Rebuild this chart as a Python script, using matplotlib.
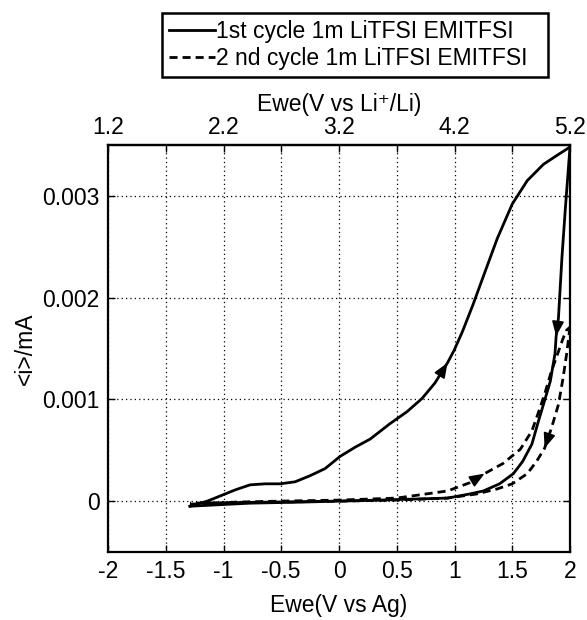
import matplotlib
matplotlib.use("Agg")
import matplotlib.pyplot as plt
from matplotlib.ticker import FixedLocator

plt.rcParams['font.family'] = ['Liberation Sans', 'DejaVu Sans']
plt.rcParams['font.size'] = 16.5

# 1st cycle, forward and reverse scan (V vs Ag, mA)
c1_fwd_x = [-1.29, -1.14, -1.03, -0.90, -0.77, -0.64, -0.51, -0.38, -0.25, -0.12, 0.01, 0.14,
            0.27, 0.44, 0.59, 0.72, 0.83, 0.94, 1.00, 1.07, 1.16, 1.25, 1.37, 1.50, 1.63, 1.77,
            1.89, 2.00]
c1_fwd_y = [-0.00005, 0.0, 0.00005, 0.00011, 0.00016, 0.00017, 0.00017, 0.00019, 0.00025, 0.00032,
            0.00044, 0.00053, 0.00061, 0.00076, 0.00088, 0.00101, 0.00116, 0.00136, 0.00149,
            0.00167, 0.00193, 0.00221, 0.00258, 0.00292, 0.00315, 0.00331, 0.00340, 0.00348]
c1_rev_x = [2.00, 1.96, 1.93, 1.90, 1.88, 1.87, 1.83, 1.77, 1.72, 1.67, 1.59, 1.51, 1.39, 1.25,
            1.13, 0.94, 0.35, -0.34, -0.77, -1.29]
c1_rev_y = [0.00348, 0.00288, 0.00239, 0.00180, 0.00162, 0.00145, 0.00118, 0.00095, 0.00076,
            0.00056, 0.00039, 0.00027, 0.00017, 0.00010, 0.00007, 0.00003, 0.00001, -0.00001,
            -0.00002, -0.00005]

# 2nd cycle
c2_fwd_x = [-1.29, -0.90, -0.51, 0.0, 0.50, 0.94, 1.13, 1.26, 1.42, 1.57, 1.67, 1.72, 1.78,
            1.84, 1.90, 1.94, 1.97, 2.00]
c2_fwd_y = [-0.00003, -0.00001, 0.0, 0.00001, 0.00003, 0.00010, 0.00018, 0.00027, 0.00037,
            0.00051, 0.00069, 0.00085, 0.00105, 0.00128, 0.00147, 0.00160, 0.00168, 0.00171]
c2_rev_x = [2.00, 1.97, 1.94, 1.90, 1.84, 1.78, 1.71, 1.63, 1.50, 1.37, 1.19, 0.94, 0.50, 0.01,
            -0.60, -1.29]
c2_rev_y = [0.00171, 0.00144, 0.00121, 0.00095, 0.00072, 0.00052, 0.00039, 0.00027, 0.00017,
            0.00012, 0.00007, 0.00003, 0.00001, 0.0, -0.00001, -0.00002]

y_ticks = [0, 0.001, 0.002, 0.003]
y_labels = ["0", "0.001", "0.002", "0.003"]
x_ticks = [-2, -1.5, -1, -0.5, 0, 0.5, 1, 1.5, 2]
x_labels = ["-2", "-1.5", "-1", "-0.5", "0", "0.5", "1", "1.5", "2"]
top_ticks = [1.2, 2.2, 3.2, 4.2, 5.2]
top_labels = ["1.2", "2.2", "3.2", "4.2", "5.2"]
li_offset = 3.2

fig = plt.figure(figsize=(5.87, 6.2), dpi=100)
ax = fig.add_axes([108 / 587, 1 - 552 / 620, 462 / 587, 407 / 620])

lw = 2.0
dash = (2.9, 1.8)
l1, = ax.plot(c1_fwd_x, c1_fwd_y, color='black', lw=lw, solid_joinstyle='round')
ax.plot(c1_rev_x, c1_rev_y, color='black', lw=lw, solid_joinstyle='round')
l2, = ax.plot(c2_fwd_x, c2_fwd_y, color='black', lw=lw, dashes=dash)
ax.plot(c2_rev_x, c2_rev_y, color='black', lw=lw, dashes=dash)

ax.set_xlim(-2, 2)
ax.set_ylim(-0.0005, 0.0035)


def arrow(xs, ys, i):
    # head with its tip on point i, pointing along the curve from point i-1
    p0 = ax.transData.transform((xs[i - 1], ys[i - 1]))
    p1 = ax.transData.transform((xs[i], ys[i]))
    d = p1 - p0
    d = d / (d ** 2).sum() ** 0.5 * 9
    ax.annotate('', xy=(xs[i], ys[i]), xytext=(-d[0], -d[1]), textcoords='offset points',
                arrowprops=dict(arrowstyle='-|>,head_length=0.55,head_width=0.22',
                                color='black', lw=1.2, shrinkA=0, shrinkB=0))


arrow(c1_fwd_x, c1_fwd_y, 17)
arrow(c1_rev_x, c1_rev_y, 4)
arrow(c2_fwd_x, c2_fwd_y, 7)
arrow(c2_rev_x, c2_rev_y, 5)

ax.set_xticks(x_ticks)
ax.set_xticklabels(x_labels)
ax.set_yticks(y_ticks)
ax.set_yticklabels(y_labels)
ax.tick_params(direction='in', length=5, width=1, right=True, top=False, pad=6)
ax.grid(True, color='black', linestyle=(0, (1, 2.5)), linewidth=0.9)
for s in ax.spines.values():
    s.set_linewidth(1.6)

ax.set_xlabel("Ewe(V vs Ag)", labelpad=8)
ax.set_ylabel("<i>/mA", labelpad=4)

top = ax.secondary_xaxis('top', functions=(lambda x: x + li_offset, lambda x: x - li_offset))
top.set_xticks(top_ticks)
top.set_xticklabels(top_labels)
top.xaxis.set_minor_locator(FixedLocator([t + 0.5 for t in top_ticks[:-1]]))
top.tick_params(which='both', direction='in', length=5, width=1, pad=4)
top.spines['top'].set_linewidth(1.6)
top.set_xlabel("Ewe(V vs Li\u207a/Li)", labelpad=4)

leg = fig.legend([l1, l2], ["1st cycle 1m LiTFSI EMITFSI", "2 nd cycle 1m LiTFSI EMITFSI"],
                 loc='upper left', bbox_to_anchor=(162 / 587, 1 - 80 / 620, 386 / 587, 67 / 620),
                 mode='expand', frameon=True, fancybox=False, edgecolor='black', framealpha=1,
                 handlelength=2.0, handletextpad=0.05, borderpad=0.3, labelspacing=0.2,
                 borderaxespad=0)
leg.get_frame().set_linewidth(1.8)

fig.savefig("out.png", dpi=100)
